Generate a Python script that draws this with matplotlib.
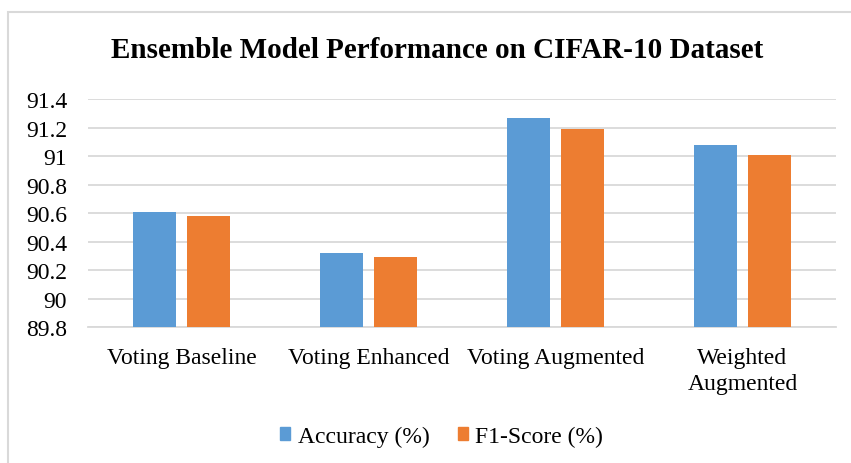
import matplotlib
matplotlib.use('Agg')
import matplotlib.pyplot as plt
import matplotlib.patches as mpatches
import numpy as np

plt.rcParams['font.family'] = ['Liberation Serif', 'DejaVu Serif']

categories = ['Voting Baseline', 'Voting Enhanced', 'Voting Augmented', 'Weighted\nAugmented']
accuracy = [90.61, 90.32, 91.27, 91.08]
f1_score = [90.58, 90.29, 91.19, 91.01]
series_names = ['Accuracy (%)', 'F1-Score (%)']
yticks = [89.8, 90.0, 90.2, 90.4, 90.6, 90.8, 91.0, 91.2, 91.4]
ytick_labels = ['89.8', '90', '90.2', '90.4', '90.6', '90.8', '91', '91.2', '91.4']

colors = ['#5B9BD5', '#ED7D31']
W, H = 851, 464

fig = plt.figure(figsize=(W / 100, H / 100), dpi=100)
ax = fig.add_axes([88 / W, 1 - 328.3 / H, (836 - 88) / W, (328.3 - 100) / H])

x = np.arange(len(categories))
bw = 0.225
off = 0.1445
ax.bar(x - off, accuracy, bw, color=colors[0], bottom=0, zorder=3)
ax.bar(x + off, f1_score, bw, color=colors[1], bottom=0, zorder=3)

ax.set_ylim(89.8, 91.4)
ax.set_xlim(-0.5, 3.5)
ax.set_yticks(yticks)
ax.set_yticklabels(ytick_labels)
ax.set_xticks(x)
ax.set_xticklabels(categories)
ax.tick_params(axis='y', length=0, pad=15, labelsize=17)
ax.tick_params(axis='x', length=0, pad=14, labelsize=17)
for lbl in ax.get_xticklabels():
    lbl.set_linespacing(1.3)

ax.grid(axis='y', color='#D9D9D9', linewidth=1.3, zorder=0)
for s in ['top', 'right', 'left']:
    ax.spines[s].set_visible(False)
ax.spines['bottom'].set_color('#D9D9D9')
ax.spines['bottom'].set_linewidth(1.3)

fig.text(437 / W, 1 - 51 / H, 'Ensemble Model Performance on CIFAR-10 Dataset',
         ha='center', va='center', fontsize=21, fontweight='bold')

handles = [mpatches.Patch(color=c) for c in colors]
fig.legend(handles, series_names, loc='center', bbox_to_anchor=(441.5 / W, 1 - 437 / H),
           ncol=2, frameon=False, fontsize=17, handlelength=0.45, handleheight=0.45,
           handletextpad=0.3, columnspacing=1.2)

# light frame around the chart area
fig.patches.append(mpatches.Rectangle((8 / W, -0.1), 1.0, 1 - 13 / H + 0.1,
                                      transform=fig.transFigure, fill=False,
                                      edgecolor='#D9D9D9', linewidth=1.5))

fig.savefig('out.png', dpi=100)
